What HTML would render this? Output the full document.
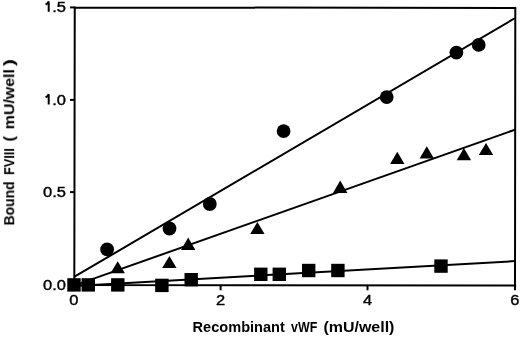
<!DOCTYPE html>
<html><head><meta charset="utf-8"><style>
html,body{margin:0;padding:0;background:#fff;width:520px;height:337px;overflow:hidden}
svg{display:block}
text{will-change:transform;font-family:"Liberation Sans",sans-serif}
</style></head><body>
<svg width="520" height="337" viewBox="0 0 520 337">
<g stroke="#000" stroke-width="2" fill="none" stroke-linecap="butt">
<line x1="74.5" y1="276.7" x2="515" y2="18.1"/>
<line x1="74.5" y1="285.4" x2="515" y2="129.7"/>
<line x1="74.5" y1="285.9" x2="515" y2="261.1"/>
<path d="M74.75,6.4 L74.3,285.9 M73.4,284.9 L516.2,285.5 M73.8,7.4 L516.2,7.95 M515.3,6.9 L515,286.5" stroke-linecap="butt"/>
<line x1="70" y1="7.4" x2="74.7" y2="7.4"/>
<line x1="70" y1="99.9" x2="74.7" y2="99.9"/>
<line x1="70" y1="192.1" x2="74.7" y2="192.1"/>
<line x1="70" y1="284.9" x2="74.7" y2="284.9"/>
<line x1="74.3" y1="284.9" x2="74.3" y2="290.3"/>
<line x1="220.6" y1="285.1" x2="220.6" y2="290.3"/>
<line x1="367.5" y1="285.3" x2="367.5" y2="290.3"/>
<line x1="515" y1="285.5" x2="515" y2="290.3"/>
</g>
<g fill="#000">
<circle cx="107.1" cy="249.4" r="6.9"/>
<circle cx="169.5" cy="228.5" r="6.9"/>
<circle cx="209.8" cy="204" r="6.9"/>
<circle cx="283.6" cy="131.1" r="6.9"/>
<circle cx="386.7" cy="97.1" r="6.9"/>
<circle cx="456.4" cy="52.6" r="6.9"/>
<circle cx="478.7" cy="44.9" r="6.9"/>
<polygon points="110.5,273.3 124.9,273.3 117.7,261.2"/>
<polygon points="162.2,268.1 176.6,268.1 169.4,256.1"/>
<polygon points="181.0,250.0 195.4,250.0 188.2,237.5"/>
<polygon points="250.2,233.9 264.6,233.9 257.4,221.9"/>
<polygon points="333.0,192.9 347.4,192.9 340.2,180.6"/>
<polygon points="390.1,164.0 404.5,164.0 397.3,151.7"/>
<polygon points="419.6,158.5 434.0,158.5 426.8,146.2"/>
<polygon points="456.7,160.2 471.1,160.2 463.9,148.1"/>
<polygon points="478.8,155.1 493.2,155.1 486,143"/>
<rect x="67.3" y="278.2" width="13.4" height="13.4"/>
<rect x="81.6" y="278.2" width="13.4" height="13.4"/>
<rect x="111.1" y="278.2" width="13.4" height="13.4"/>
<rect x="155.2" y="278.7" width="13.4" height="13.4"/>
<rect x="184.5" y="273.0" width="13.4" height="13.4"/>
<rect x="254.1" y="267.6" width="13.4" height="13.4"/>
<rect x="272.6" y="267.6" width="13.4" height="13.4"/>
<rect x="302.0" y="263.8" width="13.4" height="13.4"/>
<rect x="331.2" y="263.8" width="13.4" height="13.4"/>
<rect x="434.3" y="259.4" width="13.4" height="13.4"/>
</g>
<g font-family="Liberation Sans" font-size="15" fill="#000" stroke="#000" stroke-width="0.4" text-anchor="end">
<text transform="translate(66,11.8) scale(1.1,1)">.5</text>
<text transform="translate(66,104.5) scale(1.1,1)">.0</text>
<text transform="translate(66,196.8) scale(1.1,1)">0.5</text>
<text transform="translate(66,289.5) scale(1.1,1)">0.0</text>
</g>
<g stroke="#000" stroke-width="2" fill="none" stroke-linejoin="miter">
<path d="M45.6,4.7 Q47.6,3.7 48.7,1.5 L48.7,11.8"/>
<path d="M45.6,97.4 Q47.6,96.4 48.7,94.2 L48.7,104.5"/>
</g>
<g font-family="Liberation Sans" font-size="15" fill="#000" stroke="#000" stroke-width="0.4" text-anchor="middle">
<text transform="translate(73.8,305.2) scale(1.1,1)">0</text>
<text transform="translate(220.5,305.2) scale(1.1,1)">2</text>
<text transform="translate(367.7,305.2) scale(1.1,1)">4</text>
<text transform="translate(514.9,305.2) scale(1.1,1)">6</text>
</g>
<g font-family="Liberation Sans" font-size="14" font-weight="bold" fill="#000">
<text x="192.6" y="331.8" textLength="92.2" lengthAdjust="spacingAndGlyphs">Recombinant</text>
<text x="291.1" y="331.8" textLength="26.2" lengthAdjust="spacingAndGlyphs">vWF</text>
<text x="323.4" y="331.8" textLength="71.0" lengthAdjust="spacingAndGlyphs">(mU/well)</text>
</g>
<g font-family="Liberation Sans" font-size="14" font-weight="bold" fill="#000">
<text transform="translate(14.2,225.4) rotate(-90)" textLength="44.1" lengthAdjust="spacingAndGlyphs">Bound</text>
<text transform="translate(14.2,174.9) rotate(-90)" textLength="26.8" lengthAdjust="spacingAndGlyphs">FVIII</text>
<text transform="translate(14.2,141.5) rotate(-90)" textLength="5.5" lengthAdjust="spacingAndGlyphs">(</text>
<text transform="translate(14.2,129.3) rotate(-90)" textLength="60.2" lengthAdjust="spacingAndGlyphs">mU/well</text>
<text transform="translate(14.2,66.2) rotate(-90)" textLength="7.2" lengthAdjust="spacingAndGlyphs">)</text>
</g>
</svg>
</body></html>
